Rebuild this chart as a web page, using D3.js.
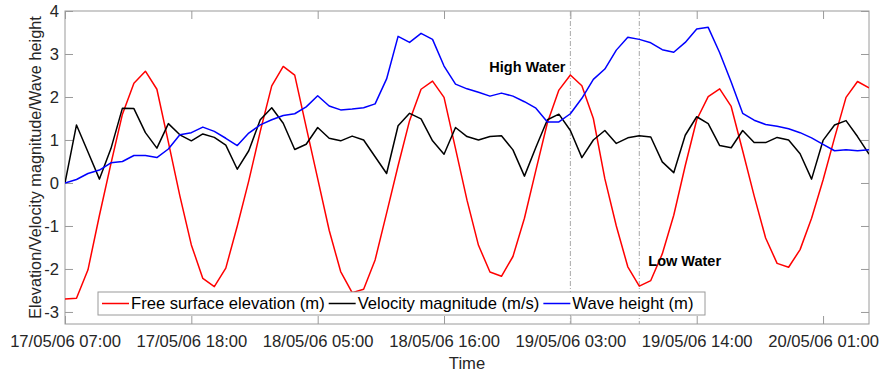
<!DOCTYPE html>
<html>
<head>
<meta charset="utf-8">
<script src="https://cdn.jsdelivr.net/npm/d3@7"></script>
<style>
  html, body { margin: 0; padding: 0; background: #fff; }
  svg { display: block; font-family: "Liberation Sans", Arial, sans-serif; }
</style>
</head>
<body>
<svg id="chart" width="882" height="372"></svg>
<script>
// ---- data (hourly samples from 17/05/06 07:00) ----
const startTime = "17/05/06 07:00";
const elevation = [-2.70,-2.68,-2.02,-0.75,0.45,1.60,2.32,2.60,2.18,0.95,-0.30,-1.44,-2.22,-2.41,-1.98,-1.00,0.05,1.20,2.26,2.71,2.51,1.30,0.10,-1.10,-2.06,-2.55,-2.47,-1.79,-0.70,0.40,1.45,2.18,2.37,1.99,0.80,-0.40,-1.45,-2.07,-2.17,-1.71,-0.82,0.30,1.40,2.16,2.51,2.26,1.50,0.10,-1.00,-1.95,-2.40,-2.27,-1.65,-0.75,0.40,1.47,2.01,2.19,1.78,0.75,-0.30,-1.28,-1.87,-1.96,-1.55,-0.82,0.07,1.05,1.99,2.36,2.21];
const velocity = [0.00,1.35,0.72,0.09,0.80,1.74,1.73,1.17,0.81,1.38,1.12,0.98,1.14,1.06,0.88,0.32,0.75,1.47,1.75,1.39,0.78,0.90,1.29,1.04,0.98,1.09,1.00,0.61,0.22,1.33,1.62,1.49,0.98,0.67,1.29,1.08,1.00,1.08,1.10,0.77,0.16,0.83,1.47,1.60,1.22,0.59,1.00,1.22,0.92,1.05,1.10,1.07,0.49,0.24,1.11,1.54,1.38,0.87,0.82,1.22,0.94,0.94,1.06,1.00,0.68,0.09,0.99,1.35,1.45,1.08,0.67];
const waveHeight = [0.00,0.08,0.22,0.30,0.47,0.50,0.64,0.64,0.59,0.79,1.12,1.17,1.30,1.20,1.04,0.87,1.16,1.35,1.47,1.57,1.61,1.77,2.03,1.79,1.70,1.72,1.75,1.84,2.42,3.41,3.27,3.48,3.34,2.72,2.30,2.19,2.11,2.02,2.09,2.02,1.89,1.74,1.42,1.42,1.61,1.97,2.41,2.65,3.09,3.39,3.34,3.26,3.10,3.04,3.27,3.58,3.62,3.03,2.35,1.62,1.46,1.36,1.32,1.26,1.17,1.05,0.90,0.75,0.77,0.75,0.77];
const xTickLabels = ["17/05/06 07:00","17/05/06 18:00","18/05/06 05:00","18/05/06 16:00","19/05/06 03:00","19/05/06 14:00","20/05/06 01:00"];
const xDomainLabels = ["17/05/06 07:00","20/05/06 05:00"];
const yTicks = [-3,-2,-1,0,1,2,3,4];
const yDomain = [-3.28, 4];
const markers = [
  {time: "19/05/06 03:00", label: "High Water"},
  {time: "19/05/06 09:00", label: "Low Water"}
];
const seriesNames = ["Free surface elevation (m)", "Velocity magnitude (m/s)", "Wave height (m)"];
const seriesColors = ["#ff0000", "#000000", "#0000ff"];

// ---- setup ----
const parse = d3.utcParse("%d/%m/%y %H:%M");
const fmt = d3.utcFormat("%d/%m/%y %H:%M");
const t0 = parse(startTime);
const times = elevation.map((_, i) => d3.utcHour.offset(t0, i));

const svg = d3.select("#chart");
const m = {left: 65, right: 869, top: 11, bottom: 324};
const x = d3.scaleUtc().domain(xDomainLabels.map(parse)).range([m.left, m.right]);
const y = d3.scaleLinear().domain(yDomain).range([m.bottom, m.top]);

const axisCol = "#9a9a9a";
const textCol = "#262626";
const tickLen = 8;
const fs = "16.6px";

// clip
svg.append("defs").append("clipPath").attr("id", "clip")
  .append("rect").attr("x", m.left).attr("y", m.top)
  .attr("width", m.right - m.left).attr("height", m.bottom - m.top);

// axes
const xTickVals = xTickLabels.map(parse);
const xb = svg.append("g").attr("transform", `translate(0,${m.bottom})`)
  .call(d3.axisBottom(x).tickValues(xTickVals).tickFormat(fmt).tickSizeInner(-tickLen).tickSizeOuter(0).tickPadding(11));
const xt = svg.append("g").attr("transform", `translate(0,${m.top})`)
  .call(d3.axisTop(x).tickValues(xTickVals).tickFormat("").tickSizeInner(-tickLen).tickSizeOuter(0));
const yl = svg.append("g").attr("transform", `translate(${m.left},0)`)
  .call(d3.axisLeft(y).tickValues(yTicks).tickFormat(d3.format("d")).tickSizeInner(-tickLen).tickSizeOuter(0).tickPadding(6));
const yr = svg.append("g").attr("transform", `translate(${m.right},0)`)
  .call(d3.axisRight(y).tickValues(yTicks).tickFormat("").tickSizeInner(-tickLen).tickSizeOuter(0));

[xb, xt, yl, yr].forEach(g => {
  g.select(".domain").remove();
  g.selectAll(".tick line").attr("stroke", axisCol);
  g.selectAll(".tick text").attr("fill", textCol).style("font-size", fs)
    .style("font-family", '"Liberation Sans", Arial, sans-serif');
});
yl.selectAll(".tick text").text(d => d < 0 ? "-" + Math.abs(d) : d);

// box
svg.append("rect").attr("x", m.left).attr("y", m.top)
  .attr("width", m.right - m.left).attr("height", m.bottom - m.top)
  .attr("fill", "none").attr("stroke", axisCol).attr("stroke-width", 1);

// markers
const plot = svg.append("g").attr("clip-path", "url(#clip)");
markers.forEach(mk => {
  plot.append("line")
    .attr("x1", x(parse(mk.time))).attr("x2", x(parse(mk.time)))
    .attr("y1", m.top).attr("y2", m.bottom)
    .attr("stroke", "#a8a8a8").attr("stroke-width", 1)
    .attr("stroke-dasharray", "5,2,1,2");
});

// series
const allSeries = [elevation, velocity, waveHeight];
const line = d3.line().x((d, i) => x(times[i])).y(d => y(d));
allSeries.forEach((s, k) => {
  plot.append("path").datum(s)
    .attr("d", line).attr("fill", "none")
    .attr("stroke", seriesColors[k]).attr("stroke-width", 1.5)
    .attr("stroke-linejoin", "round");
});

// annotations
svg.append("text").attr("x", x(parse(markers[0].time)) - 5).attr("y", 72)
  .attr("text-anchor", "end").attr("font-weight", "bold").attr("font-size", "14.5px")
  .attr("fill", "#000").text(markers[0].label);
svg.append("text").attr("x", x(parse(markers[1].time)) + 9).attr("y", 266)
  .attr("text-anchor", "start").attr("font-weight", "bold").attr("font-size", "14.5px")
  .attr("fill", "#000").text(markers[1].label);

// legend
const lg = svg.append("g");
lg.append("rect").attr("x", 98).attr("y", 292).attr("width", 607).attr("height", 23)
  .attr("fill", "#fff").attr("stroke", axisCol);
let lx = 102;
seriesNames.forEach((name, k) => {
  lg.append("line").attr("x1", lx).attr("x2", lx + 27).attr("y1", 303.5).attr("y2", 303.5)
    .attr("stroke", seriesColors[k]).attr("stroke-width", 1.5);
  const t = lg.append("text").attr("x", lx + 29).attr("y", 303.5).attr("dy", "0.35em")
    .attr("font-size", fs).attr("fill", "#000").text(name);
  lx += 29 + t.node().getComputedTextLength() + 4;
});

// axis titles
svg.append("text").attr("x", (m.left + m.right) / 2).attr("y", 369)
  .attr("text-anchor", "middle").attr("font-size", fs).attr("fill", textCol).text("Time");
svg.append("text").attr("transform", `translate(41,${(m.top + m.bottom) / 2}) rotate(-90)`)
  .attr("text-anchor", "middle").attr("font-size", "16.3px").attr("fill", textCol)
  .text("Elevation/Velocity magnitude/Wave height");
</script>
</body>
</html>
